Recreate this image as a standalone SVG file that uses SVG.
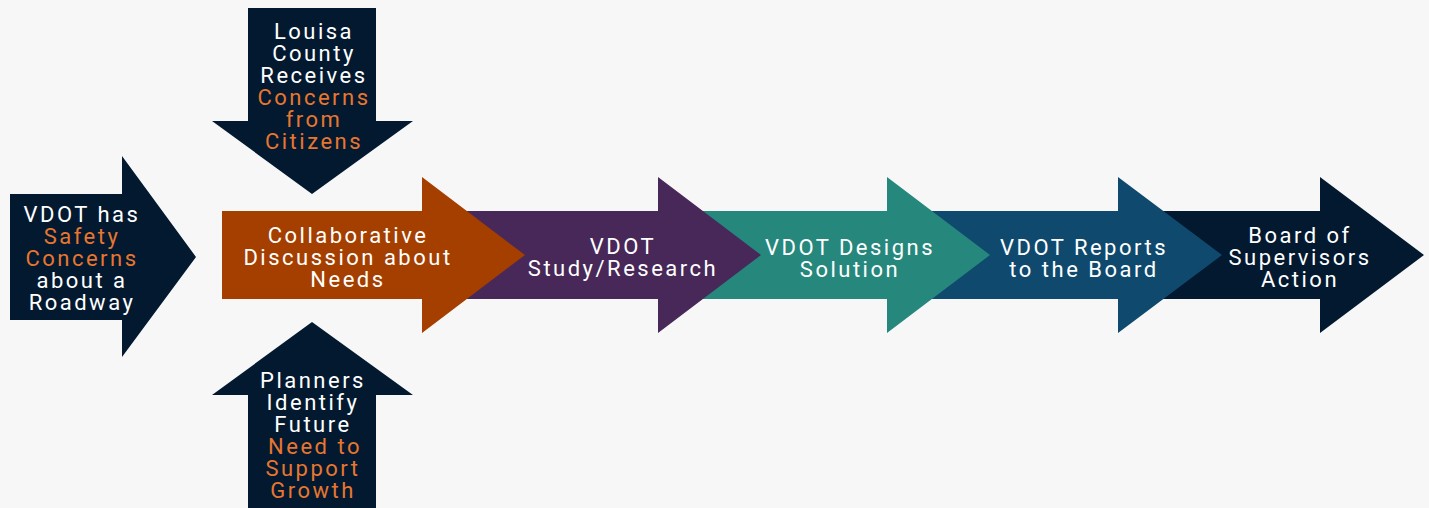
<svg xmlns="http://www.w3.org/2000/svg" width="1429" height="508" viewBox="0 0 1429 508">
<style>
text{font-family:Roboto,"Liberation Sans",sans-serif;font-size:22px;fill:#ffffff;text-anchor:middle;letter-spacing:2.5px}
.o{fill:#e8762f}
</style>
<rect width="1429" height="508" fill="#f7f7f7"/>
<g id="chain">
<g id="n-board">
<polygon fill="#021930" points="1150,211 1320,211 1320,177 1424,255 1320,333 1320,299 1150,299"/>
<text x="1300" y="243">Board of</text>
<text x="1300" y="265">Supervisors</text>
<text x="1300" y="287">Action</text>
</g>
<g id="n-reports">
<polygon fill="#0f4a6e" points="920,211 1118,211 1118,177 1222,255 1118,333 1118,299 920,299"/>
<text x="1084" y="255">VDOT Reports</text>
<text x="1084" y="277">to the Board</text>
</g>
<g id="n-designs">
<polygon fill="#26877c" points="690,211 887,211 887,177 990,255 887,333 887,299 690,299"/>
<text x="850" y="255">VDOT Designs</text>
<text x="850" y="277">Solution</text>
</g>
<g id="n-study">
<polygon fill="#472858" points="460,211 658,211 658,177 761,255 658,333 658,299 460,299"/>
<text x="623" y="254">VDOT</text>
<text x="623" y="276">Study/Research</text>
</g>
<g id="n-collab">
<polygon fill="#a53f00" points="222,211 422,211 422,177 525,255 422,333 422,299 222,299"/>
<text x="348" y="243">Collaborative</text>
<text x="348" y="265">Discussion about</text>
<text x="348" y="287">Needs</text>
</g>
</g>
<g id="n-vdot-safety">
<polygon fill="#021930" points="10,194 122,194 122,156 196,257 122,357 122,320 10,320"/>
<text x="82" y="222">VDOT has</text>
<text x="82" y="244" class="o">Safety</text>
<text x="82" y="266" class="o">Concerns</text>
<text x="82" y="288">about a</text>
<text x="82" y="310">Roadway</text>
</g>
<g id="n-louisa">
<polygon fill="#021930" points="248,8 376,8 376,121 413,121 312,194 212,121 248,121"/>
<text x="314" y="39">Louisa</text>
<text x="314" y="61">County</text>
<text x="314" y="83">Receives</text>
<text x="314" y="105" class="o">Concerns</text>
<text x="314" y="127" class="o">from</text>
<text x="314" y="149" class="o">Citizens</text>
</g>
<g id="n-planners">
<polygon fill="#021930" points="312,322 413,395 376,395 376,508 248,508 248,395 212,395"/>
<text x="313" y="388">Planners</text>
<text x="313" y="410">Identify</text>
<text x="313" y="432">Future</text>
<text x="315" y="454" class="o">Need to</text>
<text x="313" y="476" class="o">Support</text>
<text x="313" y="498" class="o">Growth</text>
</g>
<g id="connectors"></g>
</svg>
